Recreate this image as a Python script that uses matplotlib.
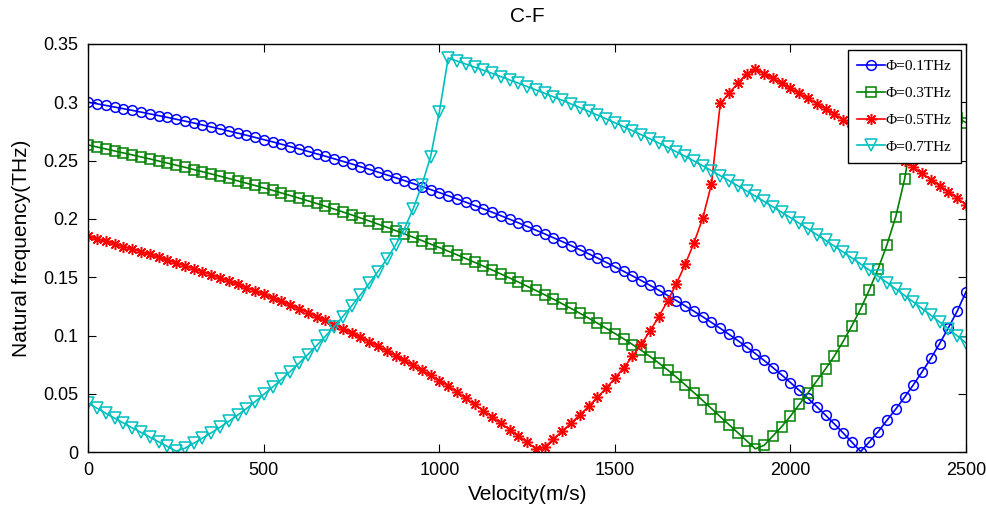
import numpy as np
import matplotlib
matplotlib.use("Agg")
import matplotlib.pyplot as plt

# velocity grid (m/s)
velocity = np.arange(0, 2525, 25)

# natural frequency (THz) for each phi
freq_01 = [
    0.3000, 0.2987, 0.2973, 0.2959, 0.2945, 0.2931, 0.2916, 0.2901, 0.2886, 0.2871,
    0.2855, 0.2839, 0.2823, 0.2806, 0.2789, 0.2772, 0.2754, 0.2736, 0.2718, 0.2699,
    0.2680, 0.2661, 0.2641, 0.2621, 0.2601, 0.2580, 0.2559, 0.2538, 0.2516, 0.2494,
    0.2472, 0.2449, 0.2426, 0.2402, 0.2378, 0.2354, 0.2329, 0.2304, 0.2278, 0.2252,
    0.2226, 0.2199, 0.2172, 0.2144, 0.2116, 0.2087, 0.2058, 0.2028, 0.1998, 0.1967,
    0.1936, 0.1904, 0.1872, 0.1839, 0.1806, 0.1772, 0.1737, 0.1702, 0.1666, 0.1628,
    0.1590, 0.1551, 0.1512, 0.1472, 0.1431, 0.1389, 0.1345, 0.1300, 0.1255, 0.1209,
    0.1162, 0.1113, 0.1063, 0.1011, 0.0958, 0.0903, 0.0846, 0.0787, 0.0726, 0.0663,
    0.0598, 0.0531, 0.0462, 0.0391, 0.0318, 0.0243, 0.0166, 0.0087, 0.0006, 0.0091,
    0.0177, 0.0275, 0.0371, 0.0472, 0.0578, 0.0690, 0.0805, 0.0932, 0.1068, 0.1210,
    0.1375,
]
freq_03 = [
    0.2634, 0.2617, 0.2600, 0.2583, 0.2566, 0.2549, 0.2532, 0.2515, 0.2497, 0.2479,
    0.2461, 0.2443, 0.2424, 0.2405, 0.2386, 0.2367, 0.2347, 0.2327, 0.2307, 0.2287,
    0.2266, 0.2245, 0.2223, 0.2201, 0.2179, 0.2156, 0.2133, 0.2109, 0.2085, 0.2060,
    0.2035, 0.2009, 0.1983, 0.1956, 0.1929, 0.1901, 0.1873, 0.1844, 0.1815, 0.1785,
    0.1755, 0.1724, 0.1693, 0.1661, 0.1629, 0.1596, 0.1563, 0.1529, 0.1494, 0.1459,
    0.1423, 0.1387, 0.1350, 0.1312, 0.1273, 0.1233, 0.1192, 0.1150, 0.1107, 0.1063,
    0.1018, 0.0972, 0.0924, 0.0874, 0.0821, 0.0765, 0.0706, 0.0644, 0.0579, 0.0512,
    0.0444, 0.0375, 0.0306, 0.0237, 0.0168, 0.0099, 0.0030, 0.0060, 0.0140, 0.0220,
    0.0310, 0.0410, 0.0510, 0.0612, 0.0715, 0.0825, 0.0950, 0.1085, 0.1230, 0.1395,
    0.1575, 0.1780, 0.2020, 0.2340, 0.2790, 0.2920, 0.2970, 0.2940, 0.2905, 0.2867,
    0.2826,
]
freq_05 = [
    0.1850, 0.1829, 0.1808, 0.1786, 0.1764, 0.1742, 0.1719, 0.1696, 0.1672, 0.1648,
    0.1624, 0.1599, 0.1574, 0.1548, 0.1522, 0.1495, 0.1468, 0.1440, 0.1412, 0.1383,
    0.1354, 0.1324, 0.1293, 0.1262, 0.1230, 0.1197, 0.1164, 0.1130, 0.1095, 0.1059,
    0.1023, 0.0986, 0.0948, 0.0909, 0.0869, 0.0829, 0.0788, 0.0746, 0.0703, 0.0659,
    0.0614, 0.0568, 0.0516, 0.0463, 0.0410, 0.0357, 0.0303, 0.0249, 0.0195, 0.0140,
    0.0085, 0.0030, 0.0045, 0.0115, 0.0182, 0.0250, 0.0320, 0.0393, 0.0470, 0.0550,
    0.0635, 0.0725, 0.0822, 0.0927, 0.1040, 0.1163, 0.1297, 0.1445, 0.1610, 0.1795,
    0.2005, 0.2300, 0.2990, 0.3077, 0.3163, 0.3245, 0.3283, 0.3245, 0.3205, 0.3163,
    0.3120, 0.3077, 0.3033, 0.2989, 0.2944, 0.2898, 0.2849, 0.2800, 0.2750, 0.2700,
    0.2649, 0.2598, 0.2546, 0.2494, 0.2442, 0.2390, 0.2338, 0.2285, 0.2232, 0.2178,
    0.2124,
]
freq_07 = [
    0.0420, 0.0377, 0.0334, 0.0292, 0.0251, 0.0210, 0.0170, 0.0130, 0.0090, 0.0050,
    0.0010, 0.0035, 0.0077, 0.0121, 0.0167, 0.0215, 0.0265, 0.0318, 0.0374, 0.0434,
    0.0497, 0.0559, 0.0624, 0.0692, 0.0763, 0.0837, 0.0914, 0.0994, 0.1077, 0.1164,
    0.1255, 0.1349, 0.1447, 0.1549, 0.1656, 0.1775, 0.1915, 0.2085, 0.2290, 0.2535,
    0.2920, 0.3380, 0.3354, 0.3328, 0.3302, 0.3275, 0.3248, 0.3220, 0.3192, 0.3164,
    0.3135, 0.3106, 0.3077, 0.3047, 0.3017, 0.2986, 0.2955, 0.2923, 0.2891, 0.2858,
    0.2825, 0.2791, 0.2757, 0.2722, 0.2687, 0.2651, 0.2614, 0.2576, 0.2537, 0.2497,
    0.2456, 0.2414, 0.2371, 0.2328, 0.2284, 0.2240, 0.2195, 0.2150, 0.2104, 0.2058,
    0.2011, 0.1963, 0.1915, 0.1866, 0.1817, 0.1767, 0.1717, 0.1666, 0.1614, 0.1562,
    0.1509, 0.1455, 0.1400, 0.1345, 0.1289, 0.1232, 0.1175, 0.1117, 0.1058, 0.0998,
    0.0937,
]

series_labels = ["Φ=0.1THz", "Φ=0.3THz", "Φ=0.5THz", "Φ=0.7THz"]
x_ticks = [0, 500, 1000, 1500, 2000, 2500]
y_ticks = [0, 0.05, 0.1, 0.15, 0.2, 0.25, 0.3, 0.35]
y_ticklabels = ["0", "0.05", "0.1", "0.15", "0.2", "0.25", "0.3", "0.35"]

plt.rcParams["font.family"] = ["Liberation Sans", "DejaVu Sans"]

fig = plt.figure(figsize=(9.86, 5.09), dpi=100)
ax = fig.add_axes([0.0896, 0.1114, 0.8901, 0.8022])

estilos = [
    (freq_01, "#0000FF", "o", 7.0),
    (freq_03, "#008000", "s", 6.5),
    (freq_05, "#FF0000", (8, 2, 0), 8.0),
    (freq_07, "#00BFBF", "v", 8.0),
]
for (valores, cor, marcador, tam), rotulo in zip(estilos, series_labels):
    ax.plot(velocity, valores, color=cor, linewidth=1.2, marker=marcador,
            markersize=tam, markerfacecolor="none", markeredgecolor=cor,
            markeredgewidth=1.1, label=rotulo)

ax.set_xlim(0, 2500)
ax.set_ylim(0, 0.35)
ax.set_xticks(x_ticks)
ax.set_yticks(y_ticks)
ax.set_yticklabels(y_ticklabels)
ax.tick_params(direction="in", top=True, right=True, length=6, width=0.8,
               labelsize=13, pad=7)
for lado in ax.spines.values():
    lado.set_linewidth(1.0)

ax.set_title("C-F", fontsize=15, pad=16)
ax.set_xlabel("Velocity(m/s)", fontsize=15, labelpad=4)
ax.set_ylabel("Natural frequency(THz)", fontsize=15, labelpad=9)

leg = ax.legend(loc="upper right", bbox_to_anchor=(0.994, 0.985), borderaxespad=0,
                prop={"family": "Liberation Serif", "size": 11},
                fancybox=False, edgecolor="black", framealpha=1,
                handlelength=1.8, handletextpad=0.05, labelspacing=0.86,
                borderpad=0.62)
leg.get_frame().set_linewidth(1.0)

fig.savefig("out.png", dpi=100)
